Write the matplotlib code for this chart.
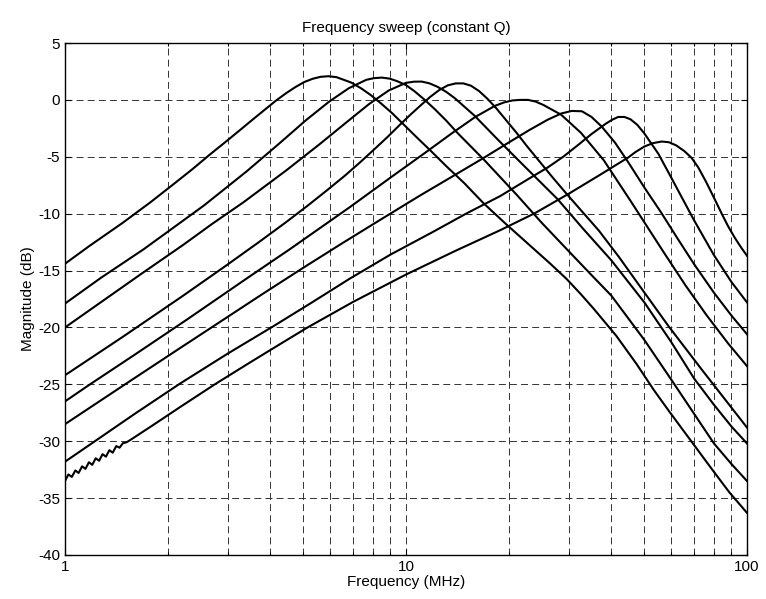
import matplotlib
matplotlib.use("Agg")
import matplotlib.pyplot as plt
from matplotlib.ticker import FixedLocator, NullFormatter

plt.rcParams['font.family'] = ['Liberation Sans', 'DejaVu Sans']
plt.rcParams['lines.scale_dashes'] = False

# ---- data (frequency in MHz, magnitude in dB) ----
freq_1 = [1, 1.18, 1.48, 1.78, 2.07, 2.37, 2.66, 2.96, 3.26, 3.55, 3.85, 4.14, 4.44, 4.74,
          5.03, 5.33, 5.62, 5.92, 6.25, 6.9, 7.4, 7.9, 8.46, 9.1, 9.87, 10.8, 11.84, 13.15,
          14.8, 16.9, 19.7, 23.7, 26.5, 29.6, 32.5, 35.5, 41.4, 47.4, 53.3, 59.2, 71, 80,
          88.8, 100]
mag_1 = [-14.4, -12.83, -10.78, -9.0, -7.46, -6.06, -4.8, -3.68, -2.65, -1.73, -0.87, -0.1,
         0.57, 1.13, 1.57, 1.86, 2.03, 2.08, 2.0, 1.53, 1.0, 0.4, -0.33, -1.16, -2.2, -3.35,
         -4.5, -5.85, -7.3, -9.1, -10.95, -13.1, -14.4, -15.75, -17.05, -18.35, -20.75, -23.2,
         -25.5, -27.4, -30.6, -32.7, -34.5, -36.3]

freq_2 = [1, 1.27, 1.70, 2.55, 3.40, 4.25, 5.09, 5.94, 6.79, 7.64, 8.05, 8.49, 8.95, 9.43,
          10.0, 10.6, 11.3, 12.13, 13.1, 14.15, 16.98, 21.2, 25, 30, 35, 40, 50, 60, 70, 80,
          90, 100]
mag_2 = [-17.9, -15.67, -13.13, -9.3, -6.31, -3.83, -1.78, -0.17, 1.02, 1.76, 1.91, 1.96, 1.87,
         1.64, 1.3, 0.75, 0.05, -0.8, -1.8, -2.9, -5.3, -8.4, -10.8, -13.3, -15.4, -17.2, -21.1,
         -24.6, -27.6, -30.2, -32.0, -33.5]

freq_3 = [1, 1.3, 1.668, 2.224, 2.7, 3.336, 4.448, 5.56, 6.67, 7.78, 8.9, 10.0, 10.55, 11.12,
          11.7, 12.35, 13.1, 13.9, 15.9, 18.53, 22.24, 27.8, 33, 40, 50, 60, 70, 80, 90, 100]
mag_3 = [-20.0, -17.6, -15.32, -12.73, -10.9, -9.0, -6.21, -3.93, -2.0, -0.38, 0.83, 1.5, 1.6,
         1.61, 1.46, 1.16, 0.72, 0.15, -1.4, -3.45, -5.83, -8.71, -11.3, -14.1, -17.8, -21.3,
         -24.5, -26.8, -28.7, -30.2]

freq_4 = [1, 1.473, 2.21, 2.946, 3.68, 4.42, 5.16, 5.89, 6.63, 7.37, 8.1, 8.84, 9.57, 10.31,
          11.05, 11.78, 12.52, 13.26, 13.99, 14.73, 15.5, 16.37, 17.3, 18.41, 19.64, 21.05,
          22.66, 24.55, 26.8, 29.46, 32.7, 36.8, 42.1, 49.1, 58.9, 73.65, 100]
mag_4 = [-24.2, -20.85, -17.25, -14.63, -12.56, -10.81, -9.27, -7.9, -6.64, -5.43, -4.3, -3.24,
         -2.22, -1.29, -0.47, 0.27, 0.87, 1.28, 1.45, 1.45, 1.25, 0.78, 0.12, -0.75, -1.77,
         -2.86, -4.09, -5.36, -6.75, -8.2, -9.75, -11.5, -13.8, -16.6, -19.9, -23.7, -28.8]

freq_5 = [1, 1.184, 1.6, 2.28, 3.42, 4.56, 6.84, 9.12, 11.4, 13.68, 15.96, 18.24, 19.4, 20.5,
          21.6, 22.8, 24.0, 25.3, 28.5, 32.6, 38, 45.6, 57, 66, 76, 88, 100]
mag_5 = [-26.5, -25, -22.4, -19.3, -15.67, -13.13, -9.43, -6.71, -4.63, -2.9, -1.5, -0.52, -0.22,
         -0.05, 0.0, 0.0, -0.15, -0.45, -1.3, -2.9, -5.3, -8.9, -13.4, -16.3, -18.9, -21.4, -23.4]

freq_6 = [1, 1.5, 2.14, 2.69, 3.8, 5.0, 6.5, 8.5, 11, 14, 17, 20, 23, 26, 28.5, 30.6, 32.8, 35,
          37.5, 41, 45, 50, 56, 62, 70, 80, 90, 100]
mag_6 = [-28.5, -25.0, -21.95, -20.0, -17.05, -14.75, -12.6, -10.45, -8.4, -6.55, -5.05, -3.75,
         -2.65, -1.75, -1.2, -0.97, -1.0, -1.5, -2.35, -3.75, -5.55, -7.7, -9.9, -12.0, -14.45,
         -16.95, -18.95, -20.6]

freq_7 = [1, 1.21, 1.6, 2.17, 3.0, 4.08, 5.3, 6.85, 9.0, 12, 15, 18.9, 23, 26, 28.9, 32, 35,
          38.5, 40.2, 41.9, 43.7, 45.5, 47.7, 50, 55, 60, 65, 70, 80, 90, 100]
mag_7 = [-31.8, -30.1, -27.6, -24.95, -22.3, -19.9, -17.8, -15.7, -13.6, -11.6, -10.0, -8.45,
         -6.9, -5.95, -5.0, -3.95, -3.0, -2.1, -1.75, -1.5, -1.5, -1.7, -2.2, -2.95, -4.75,
         -6.85, -8.8, -10.6, -13.65, -16.0, -17.8]

freq_8 = [1.000, 1.023, 1.047, 1.072, 1.096, 1.122, 1.148, 1.175, 1.202, 1.230, 1.259, 1.288,
          1.318, 1.349, 1.380, 1.413, 1.445, 1.479, 1.514, 1.549, 1.8, 2.2, 2.75, 3.5, 4.2,
          5.11, 7, 10, 14, 18.9, 23.9, 30, 37, 44.9, 47, 50, 53, 56.2, 59, 62, 65.5, 68.8, 72,
          76, 80, 84.3, 88, 92, 96, 100]
mag_8 = [-33.5, -32.92, -33.14, -32.57, -32.79, -32.21, -32.43, -31.85, -32.08, -31.5, -31.72,
         -31.14, -31.36, -30.79, -31.01, -30.43, -30.57, -30.17, -30.1, -29.92, -28.64, -26.9,
         -25.0, -23.05, -21.6, -20.05, -17.75, -15.35, -13.25, -11.45, -9.95, -8.25, -6.6,
         -5.05, -4.6, -4.1, -3.8, -3.66, -3.72, -4.0, -4.5, -5.1, -5.95, -7.25, -8.6, -10.0,
         -11.1, -12.1, -12.95, -13.7]

x_major_ticks = [1, 10, 100]
x_major_labels = ['1', '10', '100']
x_minor_ticks = [2, 3, 4, 5, 6, 7, 8, 9, 20, 30, 40, 50, 60, 70, 80, 90]
y_ticks = [-40, -35, -30, -25, -20, -15, -10, -5, 0, 5]

title_text = 'Frequency sweep (constant Q)'
x_label = 'Frequency (MHz)'
y_label = 'Magnitude (dB)'

# ---- figure ----
fig = plt.figure(figsize=(7.66, 5.99), dpi=100)
ax = fig.add_axes([0.0849, 0.0735, 0.8903, 0.8547])

series = [(freq_1, mag_1), (freq_2, mag_2), (freq_3, mag_3), (freq_4, mag_4),
          (freq_5, mag_5), (freq_6, mag_6), (freq_7, mag_7), (freq_8, mag_8)]
for f, m in series:
    ax.plot(f, m, color='black', linewidth=1.5, solid_joinstyle='round')

ax.set_xscale('log')
ax.set_xlim(1, 100)
ax.set_ylim(-40, 5)

ax.xaxis.set_major_locator(FixedLocator(x_major_ticks))
ax.set_xticklabels(x_major_labels)
ax.xaxis.set_minor_locator(FixedLocator(x_minor_ticks))
ax.xaxis.set_minor_formatter(NullFormatter())
ax.set_yticks(y_ticks)
ax.set_yticklabels([str(v) for v in y_ticks])

grid_kw = dict(color='#333333', linewidth=0.7, linestyle=(0, (5, 3)))
ax.grid(True, which='major', axis='both', **grid_kw)
ax.grid(True, which='minor', axis='x', **grid_kw)
ax.set_axisbelow(True)

ax.tick_params(which='both', direction='in', top=True, right=True, labelsize=11,
               length=4, width=0.8)
ax.tick_params(which='minor', length=2.5)
for sp in ax.spines.values():
    sp.set_linewidth(1.0)
    sp.set_color('black')

ax.set_title(title_text, fontsize=11, pad=8)
ax.set_xlabel(x_label, fontsize=11, labelpad=1)
ax.set_ylabel(y_label, fontsize=11, labelpad=2)

fig.savefig('out.png', dpi=100, facecolor='white')
